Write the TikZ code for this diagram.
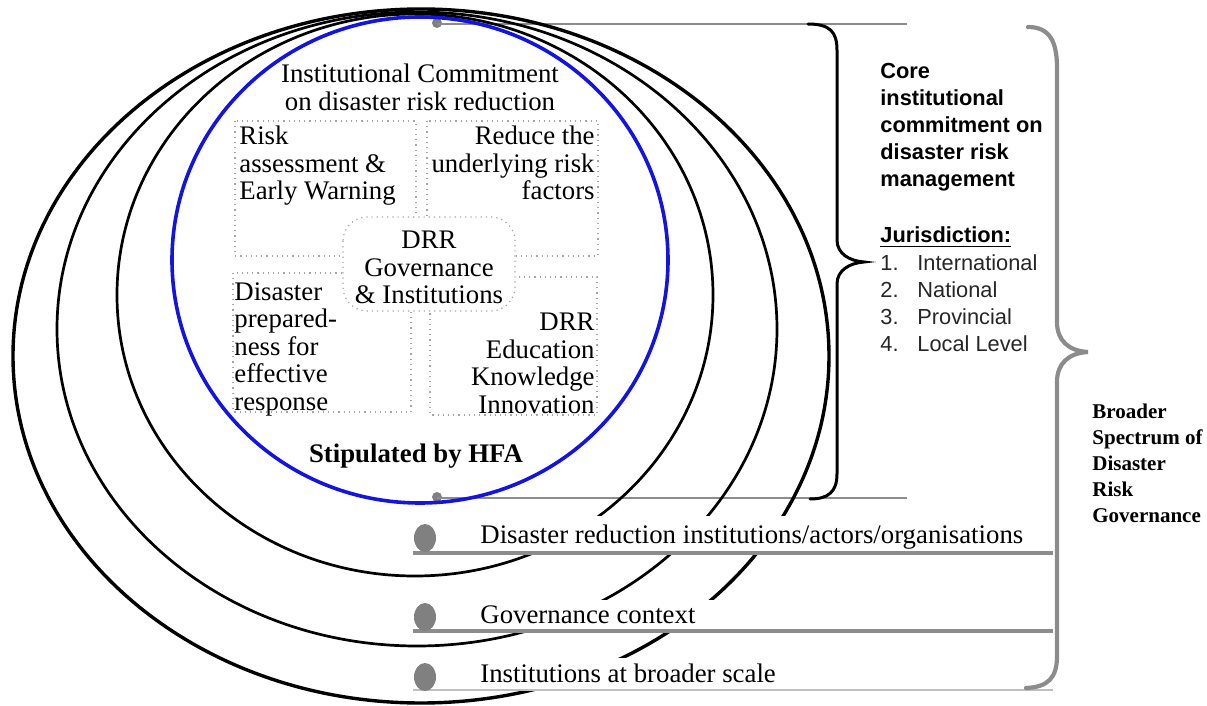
\documentclass[tikz,border=0pt]{standalone}
\usepackage{fontspec}
\setmainfont{Liberation Serif}
\setsansfont{Liberation Sans}
\definecolor{drrblue}{RGB}{20,20,225}
\definecolor{dotgray}{RGB}{128,128,128}
\definecolor{linegray}{RGB}{140,140,140}
\begin{document}
\begin{tikzpicture}[x=0.5pt,y=-0.5pt,
  ser/.style={font=\fontsize{13.4pt}{13.75pt}\selectfont, inner sep=0pt},
  serb/.style={font=\bfseries\fontsize{13.4pt}{13.75pt}\selectfont, inner sep=0pt},
  broad/.style={font=\bfseries\fontsize{10.5pt}{13pt}\selectfont, inner sep=0pt},
  sansb/.style={font=\sffamily\bfseries\fontsize{10.9pt}{13.5pt}\selectfont, inner sep=0pt},
  sansr/.style={font=\sffamily\fontsize{10.9pt}{13.6pt}\selectfont, inner sep=0pt, text=black!85},
  ring/.style={line width=1.35pt, black},
  outerring/.style={line width=1.7pt, black},
  dotbox/.style={draw=black!35, dotted, line width=0.6pt},
  bigdot/.style={fill=dotgray, draw=none},
  band/.style={fill=white, draw=none},
  brace/.style={line width=1.5pt, black, line cap=round},
  gbrace/.style={line width=2.1pt, linegray, line cap=round},
]
\useasboundingbox (0,0) rectangle (1207,706);

% small gray dots at top and bottom of the core circle
\fill[dotgray] (437,23) circle [radius=5];
\fill[dotgray] (437,497) circle [radius=5];

% thin gray guide lines of the core part
\coordinate (gtl) at (437,24);  \coordinate (gtr) at (907,24);
\coordinate (gbl) at (437,498); \coordinate (gbr) at (907,498);
\draw[linegray, line width=0.8pt] (gtl) -- (gtr);
\draw[linegray, line width=0.8pt] (gbl) -- (gbr);

% concentric ellipses
\draw[outerring] (421,356) ellipse [x radius=408, y radius=347];
\draw[ring] (417,329) ellipse [x radius=360, y radius=317];
\draw[ring] (415,295) ellipse [x radius=298, y radius=281];
\draw[drrblue, line width=1.8pt] (420,260) ellipse [x radius=248, y radius=243];

% white bands behind the outer level labels
\fill[band] (470,516) rectangle (1052,551);
\fill[band] (470,600) rectangle (1052,630);
\fill[band] (470,658) rectangle (1052,689);

% level labels and rules
\coordinate (l1a) at (413,553); \coordinate (l1b) at (1053,553);
\coordinate (l2a) at (413,631); \coordinate (l2b) at (1053,631);
\coordinate (l3a) at (413,690); \coordinate (l3b) at (1053,690);
\draw[linegray, line width=2pt] (l1a) -- (l1b);
\draw[linegray, line width=1.6pt] (l2a) -- (l2b);
\draw[black!25, line width=0.7pt] (l3a) -- (l3b);
\fill[bigdot] (425,538) ellipse [x radius=11, y radius=14];
\fill[bigdot] (425,617) ellipse [x radius=11, y radius=14];
\fill[bigdot] (425,677) ellipse [x radius=11, y radius=14];
\node[ser, anchor=base west] (lab1) at (480,543) {Disaster reduction institutions/actors/organisations};
\node[ser, anchor=base west] (lab2) at (480,623) {Governance context};
\node[ser, anchor=base west] (lab3) at (480,682) {Institutions at broader scale};

% inner content of the core circle
\node[ser, anchor=north, align=center] (title) at (420,64) {Institutional Commitment\\on disaster risk reduction};
\draw[dotbox] (235,121) rectangle (416,256);
\draw[dotbox] (427,121) rectangle (598,256);
\draw[dotbox] (233,273) rectangle (411,412);
\draw[dotbox] (430,277) rectangle (597,415);
\node[ser, anchor=north west, align=left] (risk) at (239,126) {Risk\\assessment \&\\Early Warning};
\node[ser, anchor=north east, align=right] (reduce) at (595,126) {Reduce the\\underlying risk\\factors};
\node[ser, anchor=north west, align=left] (prep) at (234,282) {Disaster\\prepared-\\ness for\\effective\\response};
\node[ser, anchor=north east, align=right] (edu) at (595,313) {DRR\\Education\\Knowledge\\Innovation};
\draw[dotbox, fill=white, rounded corners=12] (343,217) rectangle (515,311);
\node[ser, anchor=north, align=center] (gov) at (429,231) {DRR\\Governance\\\& Institutions};
\node[serb, anchor=base] (hfa) at (416,462) {Stipulated by HFA};

% black brace for the core commitment
\draw[brace] (808,24) .. controls (830,24) and (837,32) .. (837,50) -- (837,240)
  .. controls (837,254) and (850,261) .. (864,262)
  .. controls (850,263) and (837,270) .. (837,284) -- (837,474)
  .. controls (837,492) and (828,499) .. (810,499);
\node[sansb, anchor=north west, align=left] (core) at (880,63) {Core\\institutional\\commitment on\\disaster risk\\management};
\node[sansb, anchor=base west] (jur) at (880,243) {\underline{Jurisdiction:}};
\node[sansr, anchor=north west, align=left] (list) at (880,254) {\makebox[18.5pt][l]{1.}International\\\makebox[18.5pt][l]{2.}National\\\makebox[18.5pt][l]{3.}Provincial\\\makebox[18.5pt][l]{4.}Local Level};

% gray brace for the broader spectrum
\draw[gbrace] (1028,27) .. controls (1050,27) and (1057,42) .. (1057,68) -- (1057,322)
  .. controls (1057,340) and (1068,351) .. (1088,352)
  .. controls (1068,353) and (1057,364) .. (1057,382) -- (1057,656)
  .. controls (1057,678) and (1048,687) .. (1026,688);
\node[broad, anchor=north west, align=left] (broader) at (1092,404) {Broader\\Spectrum of\\Disaster\\Risk\\Governance};
\end{tikzpicture}
\end{document}
